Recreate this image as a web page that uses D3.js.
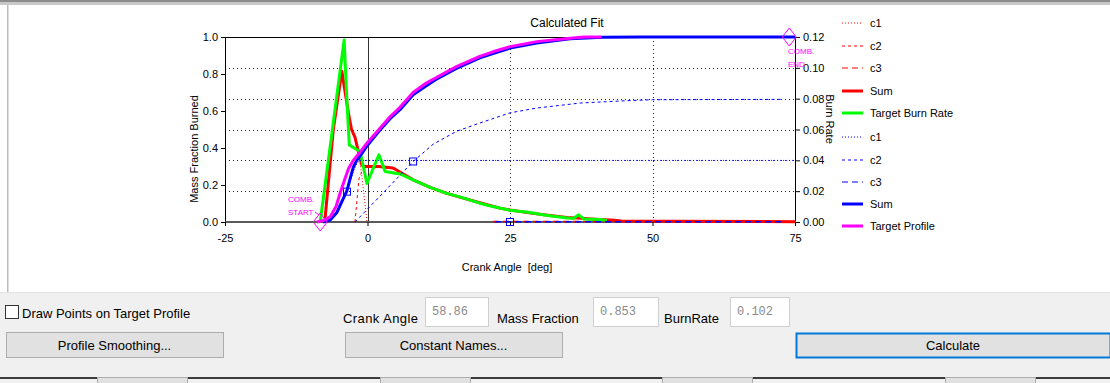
<!DOCTYPE html>
<html>
<head>
<meta charset="utf-8">
<script src="https://cdn.jsdelivr.net/npm/d3@7"></script>
<style>
  html, body { margin: 0; padding: 0; background: #f0f0f0; }
  svg { display: block; font-family: "Liberation Sans", Arial, sans-serif; }
</style>
</head>
<body>
<svg id="chart" width="1110" height="383"></svg>
<script>
// ---- axis ticks ----
const angleTicks = [-25, 0, 25, 50, 75];
const fractionTicks = [0, 0.2, 0.4, 0.6, 0.8, 1.0];
const rateTicks = [0, 0.02, 0.04, 0.06, 0.08, 0.10, 0.12];

// ---- burn rate (right axis) ----
const rateC1Angle = [-7.5, -6.0, -4.5, -3.35, -2.8, -2.2, -1.6, -1.0, -0.5, -0.1];
const rateC1Value = [0, 0.060, 0.0978, 0.0707, 0.060, 0.055, 0.0457, 0.030, 0.014, 0];
const rateC2Angle = [-2.2, -1.5, -0.7, 2.0, 4.5, 8, 13.9, 19.7, 25, 29, 35, 40, 44];
const rateC2Value = [0, 0.028, 0.0355, 0.0355, 0.0345, 0.0272, 0.0184, 0.0123, 0.0076, 0.0054, 0.0028, 0.0016, 0.0004];
const rateC3Angle = [22, 75];
const rateC3Value = [0.0003, 0.0003];
const rateSumAngle = [-7.5, -6.0, -4.5, -3.35, -2.8, -2.2, -1.6, -1.0, -0.7, 2.0, 4.5, 8, 11, 13.9, 16.5, 19.7, 23.2, 25, 29, 32, 35, 40, 43.4, 44.5, 53.4, 75];
const rateSumValue = [0, 0.060, 0.0978, 0.0707, 0.060, 0.055, 0.0457, 0.037, 0.036, 0.036, 0.035, 0.0274, 0.0225, 0.0186, 0.0158, 0.0125, 0.0090, 0.0078, 0.0056, 0.0042, 0.0030, 0.0018, 0.0012, 0.0006, 0.0005, 0.0002];
const targetRateAngle = [-8.3, -6.3, -4.1, -3.65, -3.2, -1.3, -0.1, 2.0, 3.1, 5.7, 8, 11, 13.9, 16.5, 19.7, 22, 25, 28.5, 31, 35, 36.2, 37, 38, 40.8, 42];
const targetRateValue = [0, 0.056, 0.118, 0.0815, 0.050, 0.0457, 0.025, 0.0436, 0.0327, 0.0312, 0.0274, 0.0225, 0.0186, 0.0160, 0.0122, 0.0100, 0.0076, 0.0062, 0.0045, 0.0026, 0.0024, 0.0046, 0.0020, 0.0017, 0.0010];

// ---- mass fraction burned (left axis) ----
const fracC1Angle = [-7.8, -6.5, -5.4, -4.5, -3.6, -2.5, -1.9, -1.3, 75];
const fracC1Value = [0, 0.012, 0.05, 0.105, 0.164, 0.27, 0.315, 0.333, 0.333];
const fracC2Angle = [-2.2, 2.2, 8, 11.5, 15.6, 19.7, 25, 29.7, 37.3, 45, 50, 73];
const fracC2Value = [0, 0.14, 0.327, 0.42, 0.49, 0.535, 0.59, 0.616, 0.643, 0.655, 0.661, 0.663];
const fracC3Angle = [22.4, 73];
const fracC3Value = [0.002, 0.002];
const fracSumAngle = [-7.8, -6.5, -5.4, -4.5, -3.6, -3.0, -2.5, -1.9, -1.0, 0, 2, 4, 5.7, 8, 10, 12, 15.6, 19.7, 22, 25, 29.7, 35.5, 41.3, 48, 75];
const fracSumValue = [0, 0.012, 0.05, 0.11, 0.17, 0.24, 0.295, 0.333, 0.37, 0.415, 0.49, 0.56, 0.607, 0.688, 0.73, 0.77, 0.83, 0.887, 0.91, 0.94, 0.968, 0.99, 0.998, 1.0, 1.0];
const targetProfileAngle = [-8.9, -7.5, -6.5, -5.5, -4.8, -4.0, -3.3, -2.5, -1.5, 0, 2, 4, 5.7, 8, 10, 12, 15.6, 19.7, 22, 25, 29.7, 35.5, 38, 41];
const targetProfileValue = [0, 0.01, 0.03, 0.085, 0.157, 0.23, 0.29, 0.333, 0.37, 0.43, 0.5, 0.57, 0.62, 0.70, 0.745, 0.78, 0.84, 0.895, 0.92, 0.948, 0.975, 0.993, 1.0, 1.0];

// component 50% points and combustion limits
const midpointAngle = [-3.6, 8, 25];
const midpointValue = [0.164, 0.327, 0];
const combAngle = [-8.3, 74];
const combValue = [0, 1];
const combLabels = [["COMB.", "START"], ["COMB.", "END"]];

const legendLabels = ["c1", "c2", "c3", "Sum", "Target Burn Rate", "c1", "c2", "c3", "Sum", "Target Profile"];

const svg = d3.select("#chart");
const W = 1110, H = 383;

// ---- window chrome ----
svg.append("rect").attr("width", W).attr("height", H).attr("fill", "#f0f0f0");
svg.append("rect").attr("x", 0).attr("y", 0).attr("width", W).attr("height", 292).attr("fill", "#ffffff");
svg.append("rect").attr("x", 0).attr("y", 0).attr("width", W).attr("height", 2).attr("fill", "#8c8c8c");
svg.append("rect").attr("x", 0).attr("y", 2).attr("width", W).attr("height", 3).attr("fill", "#c8c8c8");
svg.append("rect").attr("x", 7).attr("y", 5).attr("width", 1.5).attr("height", 287).attr("fill", "#bcbcbc");
svg.append("rect").attr("x", 0).attr("y", 292).attr("width", W).attr("height", 1).attr("fill", "#e2e2e2");

// ---- scales ----
const x = d3.scaleLinear().domain([-25, 75]).range([225, 795]);
const yL = d3.scaleLinear().domain([0, 1]).range([222, 37]);
const yR = d3.scaleLinear().domain([0, 0.12]).range([222, 37]);

const plot = svg.append("g");
svg.append("clipPath").attr("id", "clip").append("rect")
  .attr("x", 225).attr("y", 30).attr("width", 571).attr("height", 194);

// grid: dotted at the burn-rate ticks, and at 25 / 50 deg
plot.selectAll(".hgrid").data(rateTicks.slice(1, -1)).enter().append("line")
  .attr("x1", x(-25)).attr("x2", x(75))
  .attr("y1", d => Math.round(yR(d)) + 0.5).attr("y2", d => Math.round(yR(d)) + 0.5)
  .attr("stroke", "#222").attr("stroke-width", 1).attr("stroke-dasharray", "1,3");
plot.selectAll(".vgrid").data(angleTicks.slice(2, -1)).enter().append("line")
  .attr("x1", d => Math.round(x(d)) + 0.5).attr("x2", d => Math.round(x(d)) + 0.5)
  .attr("y1", yL(1)).attr("y2", yL(0))
  .attr("stroke", "#222").attr("stroke-width", 1).attr("stroke-dasharray", "1,3");
// TDC line
plot.append("line")
  .attr("x1", Math.round(x(0)) + 0.5).attr("x2", Math.round(x(0)) + 0.5)
  .attr("y1", yL(1)).attr("y2", yL(0)).attr("stroke", "#333").attr("stroke-width", 1);

// frame
plot.append("line").attr("x1", x(-25)).attr("x2", x(75)).attr("y1", yL(1) + 0.5).attr("y2", yL(1) + 0.5).attr("stroke", "#000");
plot.append("line").attr("x1", x(-25) + 0.5).attr("x2", x(-25) + 0.5).attr("y1", yL(1)).attr("y2", yL(0)).attr("stroke", "#000");
plot.append("line").attr("x1", x(75) + 0.5).attr("x2", x(75) + 0.5).attr("y1", yL(1)).attr("y2", yL(0)).attr("stroke", "#000");
plot.append("line").attr("x1", x(-25)).attr("x2", x(75) + 1).attr("y1", yL(0)).attr("y2", yL(0)).attr("stroke", "#5a5a5a").attr("stroke-width", 2);

// axes
const axisFont = g => g.selectAll("text").attr("font-size", 11).attr("fill", "#000")
  .attr("font-family", "'Liberation Sans', Arial, sans-serif");
const gl = svg.append("g").attr("transform", `translate(${x(-25)},0)`)
  .call(d3.axisLeft(yL).tickValues(fractionTicks).tickFormat(d3.format(".1f")).tickSize(4).tickPadding(3));
gl.call(axisFont); gl.select(".domain").remove();
const gr = svg.append("g").attr("transform", `translate(${x(75) + 1},0)`)
  .call(d3.axisRight(yR).tickValues(rateTicks).tickFormat(d3.format(".2f")).tickSize(4).tickPadding(3));
gr.call(axisFont); gr.select(".domain").remove();
const gb = svg.append("g").attr("transform", `translate(0,${yL(0)})`)
  .call(d3.axisBottom(x).tickValues(angleTicks).tickFormat(d => String(d)).tickSize(4).tickPadding(8));
gb.call(axisFont); gb.select(".domain").remove();

// axis titles
svg.append("text").attr("x", 567).attr("y", 27).attr("text-anchor", "middle").attr("font-size", 12).text("Calculated Fit");
svg.append("text").attr("transform", "translate(198,149) rotate(-90)").attr("text-anchor", "middle")
  .attr("font-size", 11).text("Mass Fraction Burned");
svg.append("text").attr("transform", "translate(826,119) rotate(90)").attr("text-anchor", "middle")
  .attr("font-size", 11).text("Burn Rate");
svg.append("text").attr("x", 507).attr("y", 271).attr("text-anchor", "middle").attr("font-size", 11)
  .attr("xml:space", "preserve").text("Crank Angle  [deg]");

// ---- curves ----
const curves = plot.append("g").attr("clip-path", "url(#clip)");
function drawSeries(angles, values, yScale, color, width, dash) {
  const pts = angles.map((a, i) => [a, values[i]]);
  const line = d3.line().x(d => x(d[0])).y(d => yScale(d[1]));
  curves.append("path").datum(pts).attr("d", line)
    .attr("fill", "none").attr("stroke", color).attr("stroke-width", width)
    .attr("stroke-linejoin", "round").attr("stroke-dasharray", dash || null);
}
const RED = "#ff0000", GREEN = "#00ff00", BLUE = "#0000ff", MAGENTA = "#ff00ff";
const DOT = "1,2", DASH = "3,3", LDASH = "6,4";

drawSeries(rateC1Angle, rateC1Value, yR, RED, 1, DOT);
drawSeries(rateC2Angle, rateC2Value, yR, RED, 1, DASH);
drawSeries(rateC3Angle, rateC3Value, yR, RED, 1.5, LDASH);
drawSeries(rateSumAngle, rateSumValue, yR, RED, 3);
drawSeries(targetRateAngle, targetRateValue, yR, GREEN, 3);
drawSeries(fracC1Angle, fracC1Value, yL, BLUE, 1, DOT);
drawSeries(fracC2Angle, fracC2Value, yL, BLUE, 1, DASH);
drawSeries(fracC3Angle, fracC3Value, yL, BLUE, 1.5, LDASH);
drawSeries(fracSumAngle, fracSumValue, yL, BLUE, 3);
drawSeries(targetProfileAngle, targetProfileValue, yL, MAGENTA, 3);

// component midpoints
svg.selectAll(".mid").data(midpointAngle).enter().append("rect")
  .attr("x", (d) => x(d) - 3.5).attr("y", (d, i) => yL(midpointValue[i]) - 3.5)
  .attr("width", 7).attr("height", 7).attr("fill", "none").attr("stroke", BLUE).attr("stroke-width", 1);

// combustion start / end markers
combAngle.forEach((a, i) => {
  const cx = x(a), cy = yL(combValue[i]);
  svg.append("path")
    .attr("d", `M${cx},${cy - 9} L${cx + 7},${cy} L${cx},${cy + 9} L${cx - 7},${cy} Z`)
    .attr("fill", "none").attr("stroke", MAGENTA).attr("stroke-width", 1);
});
svg.append("text").attr("x", 288).attr("y", 202).attr("font-size", 8).attr("fill", MAGENTA).text(combLabels[0][0]);
svg.append("text").attr("x", 288).attr("y", 215).attr("font-size", 8).attr("fill", MAGENTA).text(combLabels[0][1]);
svg.append("line").attr("x1", 315).attr("y1", 212).attr("x2", 319).attr("y2", 215).attr("stroke", MAGENTA);
svg.append("text").attr("x", 788).attr("y", 54).attr("font-size", 8).attr("fill", MAGENTA).text(combLabels[1][0]);
svg.append("text").attr("x", 788).attr("y", 67).attr("font-size", 8).attr("fill", MAGENTA).text(combLabels[1][1]);

// ---- legend ----
const legendStyle = [
  [RED, 1, DOT], [RED, 1, DASH], [RED, 1, LDASH], [RED, 3, null], [GREEN, 3, null],
  [BLUE, 1, DOT], [BLUE, 1, DASH], [BLUE, 1, LDASH], [BLUE, 3, null], [MAGENTA, 3, null]
];
const legendY = [23, 46, 68, 91, 113, 137, 160, 182, 204, 226];
const lg = svg.append("g");
legendLabels.forEach((lab, i) => {
  const [c, w, d] = legendStyle[i];
  lg.append("line").attr("x1", 842).attr("x2", 863).attr("y1", legendY[i]).attr("y2", legendY[i])
    .attr("stroke", c).attr("stroke-width", w).attr("stroke-dasharray", d);
  lg.append("text").attr("x", 870).attr("y", legendY[i] + 4).attr("font-size", 11).text(lab);
});

// ---- control strip ----
const ui = svg.append("g").attr("font-size", 13);
ui.append("rect").attr("x", 5.5).attr("y", 305.5).attr("width", 13).attr("height", 13)
  .attr("fill", "#fff").attr("stroke", "#333");
ui.append("text").attr("x", 22).attr("y", 318).text("Draw Points on Target Profile");

function button(x0, y0, w, h, label, focused) {
  ui.append("rect").attr("x", x0 + 0.5).attr("y", y0 + 0.5).attr("width", w).attr("height", h)
    .attr("fill", "#e1e1e1").attr("stroke", focused ? "#0078d7" : "#adadad").attr("stroke-width", focused ? 2 : 1);
  ui.append("text").attr("x", x0 + w / 2).attr("y", y0 + h / 2 + 5).attr("text-anchor", "middle").text(label);
}
button(6, 332, 217, 25, "Profile Smoothing...");
button(345, 332, 217, 25, "Constant Names...");
button(796, 333, 314, 24, "Calculate", true);

const readouts = [["Crank Angle", "58.86"], ["Mass Fraction", "0.853"], ["BurnRate", "0.102"]];
const labelX = [343, 497, 664];
const boxX = [425, 593, 730];
const boxW = [63, 65, 59];
readouts.forEach(([lab, val], i) => {
  ui.append("text").attr("x", labelX[i]).attr("y", 323).attr("textLength", i === 0 ? 75 : null).text(lab);
  ui.append("rect").attr("x", boxX[i] + 0.5).attr("y", 297.5).attr("width", boxW[i]).attr("height", 29)
    .attr("fill", "#fff").attr("stroke", "#cfcfcf");
  ui.append("text").attr("x", boxX[i] + 7).attr("y", 315).attr("font-size", 12)
    .attr("font-family", "'Liberation Mono', 'DejaVu Sans Mono', monospace").attr("fill", "#8a8a8a").text(val);
});

// bottom edge with the tops of the next row of buttons
svg.append("rect").attr("x", 0).attr("y", 377).attr("width", W).attr("height", 6).attr("fill", "#f0f0f0");
svg.append("rect").attr("x", 0).attr("y", 377).attr("width", W).attr("height", 2).attr("fill", "#3c3c3c");
[97, 380, 662, 945].forEach(bx => {
  svg.append("rect").attr("x", bx + 0.5).attr("y", 377.5).attr("width", 90).attr("height", 8)
    .attr("fill", "#e1e1e1").attr("stroke", "#adadad");
});
</script>
</body>
</html>
